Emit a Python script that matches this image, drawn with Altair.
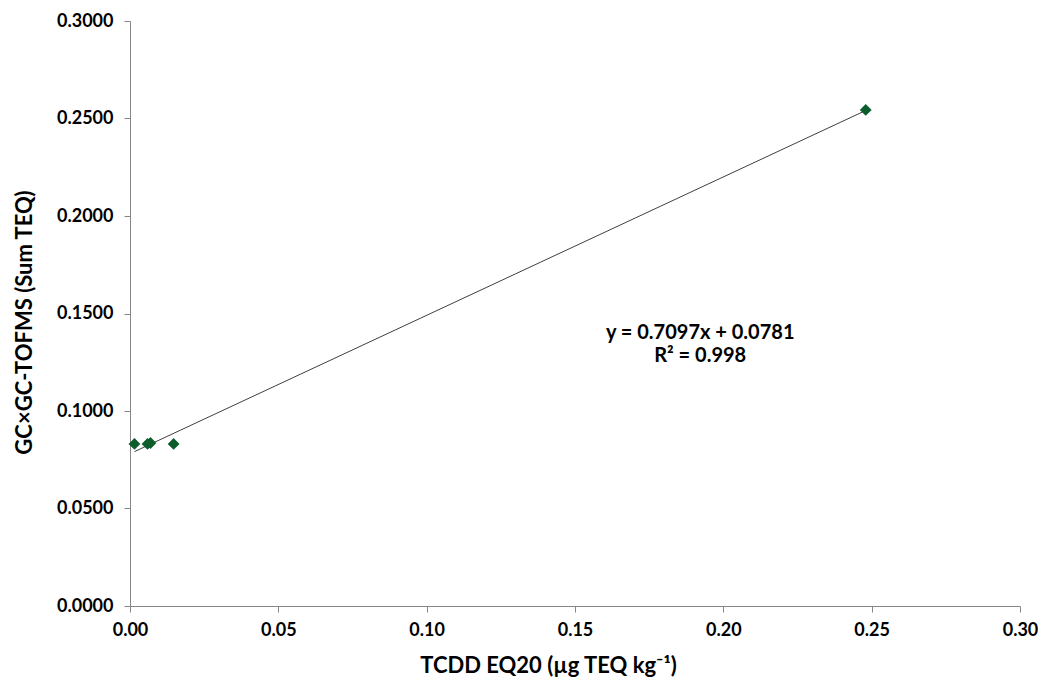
import altair as alt
import pandas as pd

# Data
tcdd = [0.0015, 0.0059, 0.0069, 0.0147, 0.2480]
gcgc = [0.0831, 0.0831, 0.0836, 0.0831, 0.2544]
slope = 0.7097
intercept = 0.0781
eq_lines = ["y = 0.7097x + 0.0781", "R² = 0.998"]
eq_x = [0.1922, 0.1922]
eq_y = [0.1400, 0.1280]

pts = pd.DataFrame({"x": tcdd, "y": gcgc})
fit = pd.DataFrame({"x": [min(tcdd), max(tcdd)]})
fit["y"] = slope * fit["x"] + intercept
ann = pd.DataFrame({"x": eq_x, "y": eq_y, "t": eq_lines})

FONT = "Lato"

xs = alt.Scale(domain=[0, 0.30], nice=False, zero=False)
ys = alt.Scale(domain=[0, 0.30], nice=False, zero=False)

xaxis = alt.Axis(values=[0, 0.05, 0.10, 0.15, 0.20, 0.25, 0.30], format=".2f",
                 title="TCDD EQ20 (µg TEQ kg⁻¹)", grid=False, labelFlush=False,
                 labelPadding=9, titlePadding=16, titleX=418, titleAlign="center")
yaxis = alt.Axis(values=[0, 0.05, 0.10, 0.15, 0.20, 0.25, 0.30], format=".4f",
                 title="GC×GC-TOFMS (Sum TEQ)", grid=False, labelFlush=False,
                 labelPadding=11, titlePadding=20, titleY=301, titleAlign="center")

line = alt.Chart(fit).mark_line(color="#404040", strokeWidth=1).encode(
    x=alt.X("x:Q", scale=xs, axis=xaxis),
    y=alt.Y("y:Q", scale=ys, axis=yaxis),
)

points = alt.Chart(pts).mark_point(shape="diamond", filled=True, color="#0B5E2C",
                                    size=140, opacity=1).encode(
    x=alt.X("x:Q", scale=xs),
    y=alt.Y("y:Q", scale=ys),
)

text = alt.Chart(ann).mark_text(font=FONT, fontSize=20, fontWeight="bold",
                                color="#000000", align="center", baseline="middle").encode(
    x=alt.X("x:Q", scale=xs),
    y=alt.Y("y:Q", scale=ys),
    text="t:N",
)

chart = (line + points + text).properties(
    width=890, height=585,
    autosize=alt.AutoSizeParams(type="none"),
    padding={"left": 130, "top": 21, "right": 18, "bottom": 78},
    background="white",
).configure_view(stroke=None).configure_axis(
    domainColor="#868686", tickColor="#868686", tickSize=6,
    labelFont=FONT, labelFontSize=18, labelFontWeight="bold", labelColor="#000000",
    titleFont=FONT, titleFontSize=22, titleFontWeight="bold", titleColor="#000000",
)

chart.save("out.html", embed_options={"renderer": "svg", "actions": False})
